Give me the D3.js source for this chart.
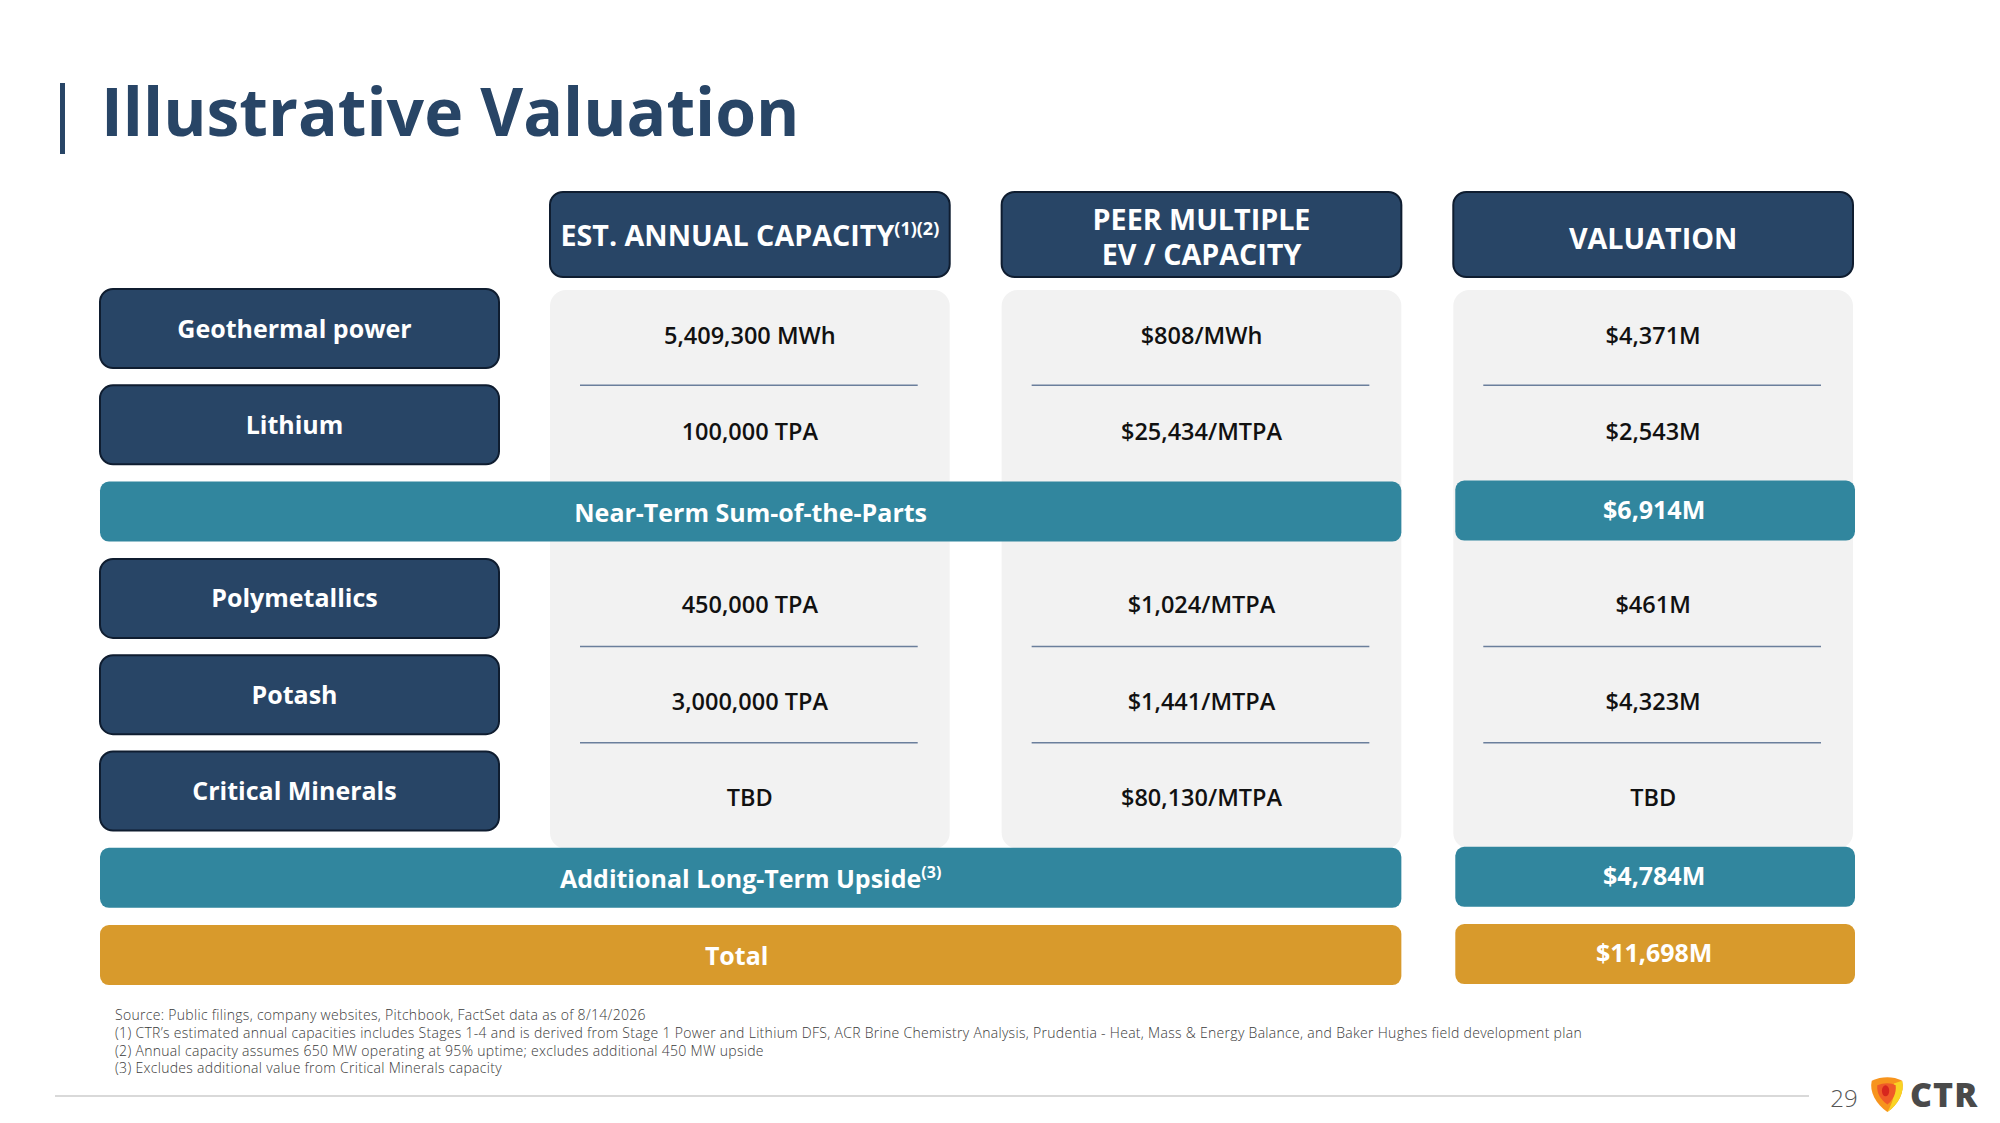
<!DOCTYPE html>
<html>
<head>
<meta charset="utf-8">
<script src="https://cdn.jsdelivr.net/npm/d3@7"></script>
<style>
  html, body { margin: 0; padding: 0; background: #fff; }
  svg { display: block; font-family: "Open Sans", "Noto Sans", sans-serif; }
</style>
</head>
<body>
<div id="chart"></div>
<script>
// ---- data ----
let rowLabels   = ["Geothermal power", "Lithium", "Polymetallics", "Potash", "Critical Minerals"];
let capacity    = ["5,409,300 MWh", "100,000 TPA", "450,000 TPA", "3,000,000 TPA", "TBD"];
let peerMultiple = ["$808/MWh", "$25,434/MTPA", "$1,024/MTPA", "$1,441/MTPA", "$80,130/MTPA"];
let valuation   = ["$4,371M", "$2,543M", "$461M", "$4,323M", "TBD"];

let columns = ["capacity", "multiple", "valuation"];
let headers = [["EST. ANNUAL CAPACITY", "(1)(2)"], ["PEER MULTIPLE", "EV / CAPACITY"], ["VALUATION"]];

let subtotals = [
  {"name": "Near-Term Sum-of-the-Parts", "sup": "", "value": "$6,914M", "kind": "sub"},
  {"name": "Additional Long-Term Upside", "sup": "(3)", "value": "$4,784M", "kind": "sub"},
  {"name": "Total", "sup": "", "value": "$11,698M", "kind": "total"}
];

let footnotes = [
  "Source: Public filings, company websites, Pitchbook, FactSet data as of 8/14/2026",
  "(1) CTR\u2019s estimated annual capacities includes Stages 1-4 and is derived from Stage 1 Power and Lithium DFS, ACR Brine Chemistry Analysis, Prudentia - Heat, Mass & Energy Balance, and Baker Hughes field development plan",
  "(2) Annual capacity assumes 650 MW operating at 95% uptime; excludes additional 450 MW upside",
  "(3) Excludes additional value from Critical Minerals capacity"
];

// ---- colours ----
const navy = "#284566", navyEdge = "#0f1d30", teal = "#31869e", gold = "#d89a2c",
      panel = "#f2f2f2", rule = "#6b7f9c";

const W = 2000, H = 1123;
const svg = d3.select("#chart").append("svg").attr("width", W).attr("height", H);

// title
svg.append("rect").attr("x", 60).attr("y", 83).attr("width", 5).attr("height", 71).attr("fill", navy);
svg.append("text").attr("x", 101).attr("y", 136)
  .attr("font-size", 66).attr("font-weight", 700).attr("fill", navy)
  .text("Illustrative Valuation");

// ---- vertical layout: slots for rows and subtotal bars ----
let slots = [
  {"type": "row", "i": 0}, {"type": "row", "i": 1}, {"type": "sub", "i": 0},
  {"type": "row", "i": 2}, {"type": "row", "i": 3}, {"type": "row", "i": 4},
  {"type": "sub", "i": 1}, {"type": "sub", "i": 2}
];
const rowH = 79, subH = 60, gap = 17.3, top0 = 289;
let y0 = top0;
slots.forEach(s => { s.h = s.type === "row" ? rowH : subH; s.y = y0; y0 += s.h + gap; });
let rowSlot = i => slots.find(s => s.type === "row" && s.i === i);
let subSlot = i => slots.find(s => s.type === "sub" && s.i === i);

// ---- columns ----
const x = d3.scaleBand().domain(columns).range([550, 1853]).paddingInner(0.115);
const labelX = 100, labelW = 399;

// grey panels behind the value columns
svg.selectAll("rect.panel").data(columns).join("rect")
  .attr("class", "panel")
  .attr("x", d => x(d)).attr("y", top0 + 1)
  .attr("width", x.bandwidth()).attr("height", subSlot(1).y - top0)
  .attr("rx", 16).attr("fill", panel);

// header boxes
let hdr = svg.selectAll("g.hdr").data(columns).join("g").attr("class", "hdr");
hdr.append("rect")
  .attr("x", d => x(d)).attr("y", 192).attr("width", x.bandwidth()).attr("height", 85)
  .attr("rx", 13).attr("fill", navy).attr("stroke", navyEdge).attr("stroke-width", 2);
hdr.each(function(d, i) {
  let g = d3.select(this), cx = x(d) + x.bandwidth() / 2, h = headers[i];
  let t = g.append("text").attr("text-anchor", "middle").attr("fill", "#fff")
    .attr("font-size", 28.7).attr("font-weight", 700);
  if (i === 0) {
    t.attr("x", cx).attr("y", 246);
    t.append("tspan").text(h[0]);
    t.append("tspan").attr("font-size", 18).attr("dy", -11).text(h[1]);
  } else if (i === 1) {
    t.append("tspan").attr("x", cx).attr("y", 230).text(h[0]);
    t.append("tspan").attr("x", cx).attr("y", 265).text(h[1]);
  } else {
    t.attr("x", cx).attr("y", 249).text(h[0]);
  }
});

// divider rules inside panels: [row above, share of the gap below it]
let rules = [[0, 1], [2, 0.5], [3, 0.5]];
columns.forEach(c => {
  svg.selectAll(null).data(rules).join("line")
    .attr("x1", x(c) + 30).attr("x2", x(c) + x.bandwidth() - 32)
    .attr("y1", d => rowSlot(d[0]).y + rowH + gap * d[1])
    .attr("y2", d => rowSlot(d[0]).y + rowH + gap * d[1])
    .attr("stroke", rule).attr("stroke-width", 1.5);
});

// row label boxes
let rows = svg.selectAll("g.row").data(rowLabels).join("g").attr("class", "row");
rows.append("rect")
  .attr("x", labelX).attr("y", (d, i) => rowSlot(i).y)
  .attr("width", labelW).attr("height", rowH)
  .attr("rx", 13).attr("fill", navy).attr("stroke", navyEdge).attr("stroke-width", 2);
rows.append("text")
  .attr("x", labelX + labelW / 2 - 5).attr("y", (d, i) => rowSlot(i).y + rowH / 2 + 9)
  .attr("text-anchor", "middle").attr("fill", "#fff")
  .attr("font-size", 25).attr("font-weight", 700)
  .text(d => d);

// value cells
let cellValues = {"capacity": capacity, "multiple": peerMultiple, "valuation": valuation};
columns.forEach(c => {
  svg.selectAll(null).data(cellValues[c]).join("text")
    .attr("x", x(c) + x.bandwidth() / 2)
    .attr("y", (d, i) => rowSlot(i).y + rowH / 2 + 15)
    .attr("text-anchor", "middle").attr("fill", "#111")
    .attr("font-size", 23.5).attr("font-weight", 650)
    .text(d => d);
});

// subtotal / total bars
let barRight = x("multiple") + x.bandwidth();
let subs = svg.selectAll("g.sub").data(subtotals).join("g").attr("class", "sub");
subs.append("rect")
  .attr("x", labelX).attr("y", (d, i) => subSlot(i).y)
  .attr("width", barRight - labelX).attr("height", subH)
  .attr("rx", 9).attr("fill", d => d.kind === "total" ? gold : teal);
subs.append("rect")
  .attr("x", x("valuation") + 2).attr("y", (d, i) => subSlot(i).y - 1)
  .attr("width", x.bandwidth()).attr("height", subH)
  .attr("rx", 9).attr("fill", d => d.kind === "total" ? gold : teal);
subs.each(function(d, i) {
  let g = d3.select(this), s = subSlot(i);
  let t = g.append("text")
    .attr("x", d.kind === "total" ? (labelX + barRight) / 2 - 14 : (labelX + barRight) / 2)
    .attr("y", s.y + subH / 2 + 10)
    .attr("text-anchor", "middle").attr("fill", "#fff")
    .attr("font-size", 25).attr("font-weight", 700);
  t.append("tspan").text(d.name);
  if (d.sup) t.append("tspan").attr("font-size", 16).attr("dy", -10).text(d.sup);
  g.append("text")
    .attr("x", x("valuation") + x.bandwidth() / 2 + 1)
    .attr("y", s.y + subH / 2 + 7)
    .attr("text-anchor", "middle").attr("fill", "#fff")
    .attr("font-size", 25).attr("font-weight", 700)
    .text(d.value);
});

// footnotes
svg.selectAll("text.fn").data(footnotes).join("text")
  .attr("class", "fn")
  .attr("x", 115).attr("y", (d, i) => 1020 + i * 17.8)
  .attr("font-size", 14).attr("font-weight", 300).attr("fill", "#3a3a3a")
  .attr("letter-spacing", 0.3)
  .text(d => d);

// footer rule, page number, logo
svg.append("line").attr("x1", 55).attr("x2", 1809).attr("y1", 1096).attr("y2", 1096)
  .attr("stroke", "#d9d9d9").attr("stroke-width", 2);
svg.append("text").attr("x", 1844).attr("y", 1107).attr("text-anchor", "middle")
  .attr("font-size", 24).attr("font-weight", 300).attr("fill", "#555").text("29");

let logo = svg.append("g").attr("transform", "translate(1869,1077) scale(0.92)");
logo.append("path").attr("d", "M3,4 C14,-1 26,-1 36,4 C39,16 32,30 20,38 C8,30 0,16 3,4 Z").attr("fill", "#f7941d");
logo.append("path").attr("d", "M36,4 C39,16 32,30 20,38 C26,28 29,16 27,7 Z").attr("fill", "#f9d423");
logo.append("path").attr("d", "M9,9 C16,6 24,6 29,9 C30,18 26,25 20,30 C13,25 8,18 9,9 Z").attr("fill", "#ef5a28");
logo.append("ellipse").attr("cx", 18).attr("cy", 15).attr("rx", 4).attr("ry", 6).attr("fill", "#d7261e");
svg.append("text").attr("x", 1910).attr("y", 1107)
  .attr("font-size", 34).attr("font-weight", 800).attr("fill", "#4a4a4a")
  .attr("letter-spacing", 1).text("CTR");
</script>
</body>
</html>
